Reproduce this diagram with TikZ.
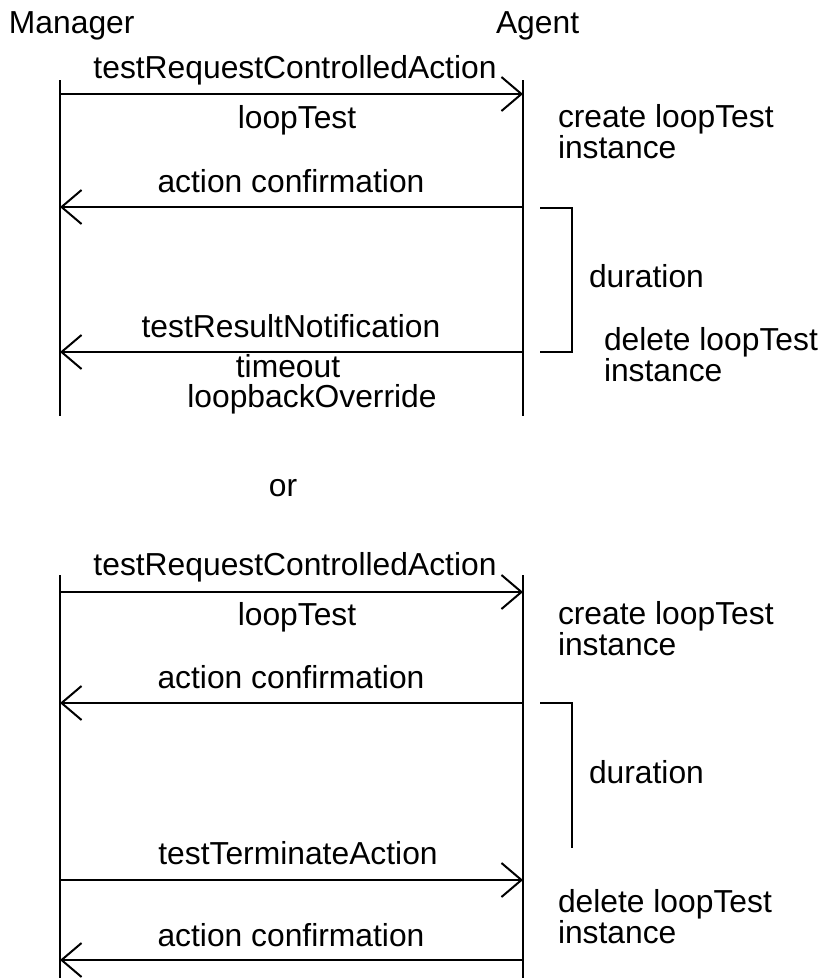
\documentclass[tikz,border=0pt]{standalone}
\usepackage{fontspec}
\setmainfont{Liberation Sans}
\usetikzlibrary{arrows.meta}
\begin{document}
\begin{tikzpicture}[x=1pt,y=-1pt,line width=2pt,
  lbl/.style={inner sep=0pt,anchor=base,font=\fontsize{31.8}{32}\selectfont},
  lbll/.style={lbl,anchor=base west},
  msg/.style={-{Straight Barb[length=20pt,width=34pt]}}]
\path[use as bounding box] (0,0) rectangle (831,978);

% ---------- headers ----------
\node[lbll] (hm) at (8,33) {Manager};
\node[lbll] (ha) at (495,33) {Agent};

% ---------- first scenario ----------
\coordinate (mT1) at (60,80);  \coordinate (mB1) at (60,416);
\coordinate (aT1) at (523,80); \coordinate (aB1) at (523,416);
\draw (mT1) -- (mB1);
\draw (aT1) -- (aB1);

\coordinate (m11) at (60,94);  \coordinate (a11) at (523,94);
\coordinate (m12) at (60,207); \coordinate (a12) at (523,207);
\coordinate (m13) at (60,352); \coordinate (a13) at (523,352);
\draw[msg] (m11) -- (a11);
\draw[msg] (a12) -- (m12);
\draw[msg] (a13) -- (m13);

\coordinate (b1a) at (540,208); \coordinate (b1b) at (572,208);
\coordinate (b1c) at (572,352); \coordinate (b1d) at (540,352);
\draw (b1a) -- (b1b) -- (b1c) -- (b1d);

\node[lbl] (t11) at (295,78) {testRequestControlledAction};
\node[lbl] (t12) at (297,128) {loopTest};
\node[lbll] (t13) at (557,127) {create loopTest};
\node[lbll] (t14) at (557,158) {instance};
\node[lbl] (t15) at (291,192) {action confirmation};
\node[lbll] (t16) at (588,287) {duration};
\node[lbl] (t17) at (291,337) {testResultNotification};
\node[lbll] (t18) at (603,350) {delete loopTest};
\node[lbll] (t19) at (603,381) {instance};
\node[lbl] (t1a) at (288,377) {timeout};
\node[lbl] (t1b) at (312,407) {loopbackOverride};

\node[lbl] (or) at (283,496) {or};

% ---------- second scenario ----------
\coordinate (mT2) at (60,575);  \coordinate (mB2) at (60,978);
\coordinate (aT2) at (523,575); \coordinate (aB2) at (523,978);
\draw (mT2) -- (mB2);
\draw (aT2) -- (aB2);

\coordinate (m21) at (60,592);  \coordinate (a21) at (523,592);
\coordinate (m22) at (60,703);  \coordinate (a22) at (523,703);
\coordinate (m23) at (60,880);  \coordinate (a23) at (523,880);
\coordinate (m24) at (60,960);  \coordinate (a24) at (523,960);
\draw[msg] (m21) -- (a21);
\draw[msg] (a22) -- (m22);
\draw[msg] (m23) -- (a23);
\draw[msg] (a24) -- (m24);

\coordinate (b2a) at (540,703); \coordinate (b2b) at (572,703);
\coordinate (b2c) at (572,848);
\draw (b2a) -- (b2b) -- (b2c);

\node[lbl] (t21) at (295,575) {testRequestControlledAction};
\node[lbl] (t22) at (297,625) {loopTest};
\node[lbll] (t23) at (557,624) {create loopTest};
\node[lbll] (t24) at (557,655) {instance};
\node[lbl] (t25) at (291,688) {action confirmation};
\node[lbll] (t26) at (588,783) {duration};
\node[lbl] (t27) at (298,864) {testTerminateAction};
\node[lbll] (t28) at (557,912) {delete loopTest};
\node[lbll] (t29) at (557,943) {instance};
\node[lbl] (t2a) at (291,946) {action confirmation};
\end{tikzpicture}
\end{document}
